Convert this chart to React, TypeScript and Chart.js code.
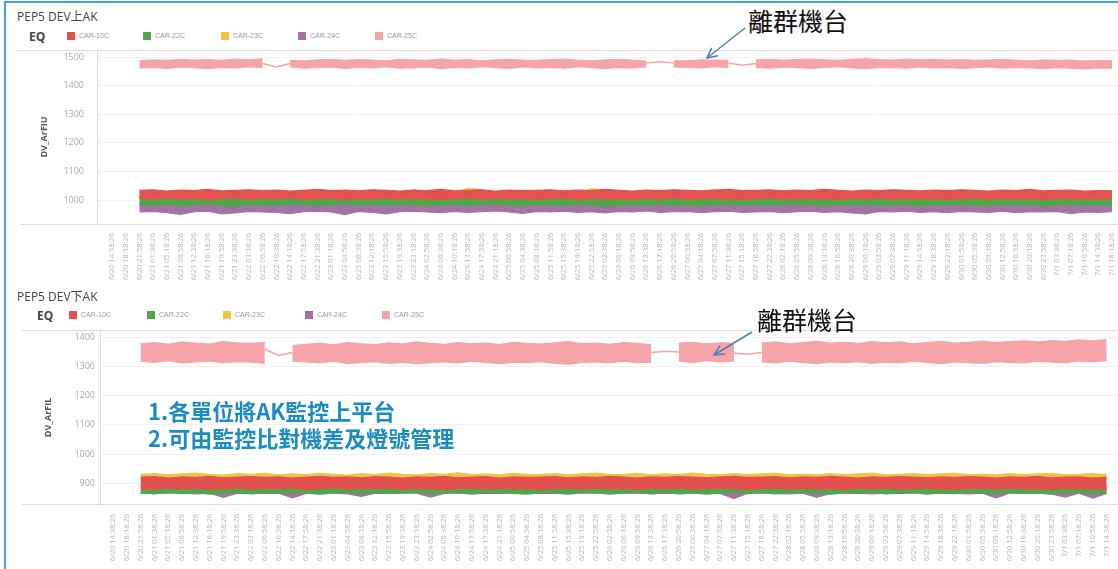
import React, { useEffect, useRef } from "react";
import { Chart, registerables } from "chart.js";

Chart.register(...registerables);

// ---------- category / tick labels ----------
const X_LABELS: string[] = [
  "6/20 14:38:26", "6/20 18:18:26", "6/20 21:58:26",
  "6/21 01:38:26", "6/21 05:18:26", "6/21 08:58:26", "6/21 12:38:26", "6/21 16:18:26", "6/21 19:58:26", "6/21 23:38:26",
  "6/22 03:18:26", "6/22 06:58:26", "6/22 10:38:26", "6/22 14:18:26", "6/22 17:58:26", "6/22 21:38:26",
  "6/23 01:18:26", "6/23 04:58:26", "6/23 08:38:26", "6/23 12:18:26", "6/23 15:58:26", "6/23 19:38:26", "6/23 23:18:26",
  "6/24 02:58:26", "6/24 06:38:26", "6/24 10:18:26", "6/24 13:58:26", "6/24 17:38:26", "6/24 21:18:26",
  "6/25 00:58:26", "6/25 04:38:26", "6/25 08:18:26", "6/25 11:58:26", "6/25 15:38:26", "6/25 19:18:26", "6/25 22:58:26",
  "6/26 02:38:26", "6/26 06:18:26", "6/26 09:58:26", "6/26 13:38:26", "6/26 17:18:26", "6/26 20:58:26",
  "6/27 00:38:26", "6/27 04:18:26", "6/27 07:58:26", "6/27 11:38:26", "6/27 15:18:26", "6/27 18:58:26", "6/27 22:38:26",
  "6/28 02:18:26", "6/28 05:58:26", "6/28 09:38:26", "6/28 13:18:26", "6/28 16:58:26", "6/28 20:38:26",
  "6/29 00:18:26", "6/29 03:58:26", "6/29 07:38:26", "6/29 11:18:26", "6/29 14:58:26", "6/29 18:38:26", "6/29 22:18:26",
  "6/30 01:58:26", "6/30 05:38:26", "6/30 09:18:26", "6/30 12:58:26", "6/30 16:38:26", "6/30 20:18:26", "6/30 23:58:26",
  "7/1 03:38:26", "7/1 07:18:26", "7/1 10:58:26", "7/1 14:38:26", "7/1 18:18:26",
];

const TOP_Y_TICKS = [1000, 1100, 1200, 1300, 1400, 1500];
const BOT_Y_TICKS = [900, 1000, 1100, 1200, 1300, 1400];

const SERIES_NAMES = ["CAR-10C", "CAR-22C", "CAR-23C", "CAR-24C", "CAR-25C"];
const SERIES_COLORS = ["#e3514f", "#4fa64b", "#f2c443", "#a571a7", "#f6a3aa"];

// ---------- upper chart (PEP5 DEV上AK) : band envelopes (high / low) per time tick ----------
const TOP_RED_HI = [null, null,
  1034, 1036, 1031, 1035, 1033, 1037, 1032, 1034, 1036, 1033,
  1035, 1031, 1034, 1037, 1033, 1035, 1032, 1036, 1034, 1031,
  1035, 1033, 1037, 1032, 1034, 1036, 1031, 1035, 1033, 1034,
  1036, 1032, 1035, 1033, 1037, 1034, 1031, 1035, 1033, 1036,
  1034, 1032, 1035, 1037, 1033, 1034, 1036, 1032, 1035, 1033,
  1037, 1034, 1031, 1035, 1033, 1036, 1034, 1032, 1035, 1033,
  1036, 1034, 1031, 1035, 1033, 1037, 1032, 1034, 1035, 1031, 1033, 1032];
const TOP_RED_LO = [null, null,
  1005, 1003, 1007, 1004, 1006, 1002, 1005, 1007, 1003, 1006,
  1004, 1007, 1003, 1005, 1006, 1002, 1005, 1004, 1007, 1003,
  1006, 1004, 1002, 1005, 1007, 1003, 1006, 1004, 1005, 1002,
  1005, 1007, 1003, 1006, 1004, 1005, 1002, 1006, 1004, 1007,
  1003, 1005, 1006, 1004, 1002, 1005, 1007, 1003, 1006, 1004,
  1005, 1002, 1006, 1004, 1007, 1003, 1005, 1006, 1004, 1002,
  1005, 1007, 1003, 1006, 1004, 1005, 1002, 1006, 1004, 1005, 1003, 1006];
const TOP_GREEN_HI = [null, null,
  1012, 1014, 1010, 1013, 1011, 1015, 1012, 1010, 1013, 1014,
  1011, 1013, 1012, 1015, 1010, 1012, 1014, 1011, 1013, 1012,
  1010, 1014, 1012, 1013, 1011, 1015, 1012, 1010, 1013, 1012,
  1014, 1011, 1013, 1012, 1010, 1014, 1012, 1013, 1011, 1012,
  1015, 1012, 1010, 1013, 1014, 1011, 1012, 1013, 1010, 1014,
  1012, 1011, 1013, 1015, 1012, 1010, 1013, 1012, 1014, 1011,
  1013, 1012, 1010, 1014, 1012, 1013, 1011, 1012, 1014, 1010, 1013, 1012];
const TOP_GREEN_LO = [null, null,
  983, 980, 985, 979, 982, 986, 981, 978, 984, 982,
  980, 985, 983, 979, 982, 986, 980, 984, 981, 983,
  985, 979, 982, 984, 980, 983, 986, 981, 979, 984,
  982, 980, 985, 983, 978, 982, 984, 981, 986, 980,
  983, 979, 982, 985, 981, 984, 980, 983, 986, 982,
  979, 983, 981, 985, 980, 982, 984, 979, 983, 981,
  985, 982, 980, 984, 981, 983, 979, 982, 985, 980, 983, 981];
const TOP_YELLOW_HI = [null, null,
  1026, 1028, 1024, 1027, 1025, 1029, 1026, 1024, 1028, 1027,
  1025, 1027, 1026, 1029, 1024, 1026, 1028, 1025, 1027, 1026,
  1036, 1028, 1030, 1027, 1042, 1036, 1026, 1028, 1025, 1027,
  1026, 1029, 1027, 1040, 1034, 1027, 1026, 1028, 1024, 1027,
  1029, 1026, 1038, 1025, 1027, 1028, 1026, 1024, 1027, 1029,
  1026, 1025, 1028, 1027, 1024, 1026, 1029, 1027, 1025, 1028,
  1026, 1027, 1025, 1029, 1026, 1024, 1028, 1026, 1027, 1025, 1028, 1026];
const TOP_YELLOW_LO = [null, null,
  1008, 1010, 1006, 1009, 1007, 1011, 1008, 1006, 1009, 1010,
  1007, 1009, 1008, 1011, 1006, 1008, 1010, 1007, 1009, 1008,
  1006, 1010, 1008, 1009, 1007, 1011, 1008, 1006, 1009, 1008,
  1010, 1007, 1009, 1008, 1006, 1010, 1008, 1009, 1007, 1008,
  1011, 1008, 1006, 1009, 1010, 1007, 1008, 1009, 1006, 1010,
  1008, 1007, 1009, 1011, 1008, 1006, 1009, 1008, 1010, 1007,
  1009, 1008, 1006, 1010, 1008, 1009, 1007, 1008, 1010, 1006, 1009, 1008];
const TOP_PURPLE_HI = [null, null,
  994, 996, 992, 995, 993, 997, 994, 992, 995, 996,
  993, 995, 994, 997, 992, 994, 996, 993, 995, 994,
  992, 996, 994, 995, 993, 997, 994, 992, 995, 994,
  996, 993, 995, 994, 992, 996, 994, 995, 993, 994,
  997, 994, 992, 995, 996, 993, 994, 995, 992, 996,
  994, 993, 995, 997, 994, 992, 995, 994, 996, 993,
  995, 994, 992, 996, 994, 995, 993, 994, 996, 992, 995, 994];
const TOP_PURPLE_LO = [null, null,
  958, 960, 956, 950, 959, 961, 951, 955, 960, 958,
  957, 952, 959, 961, 958, 949, 960, 957, 951, 959,
  961, 958, 956, 960, 957, 959, 962, 958, 953, 960,
  958, 961, 957, 959, 955, 960, 958, 962, 957, 959,
  960, 956, 959, 961, 957, 958, 960, 956, 959, 961,
  957, 959, 955, 951, 960, 958, 961, 957, 959, 956,
  960, 958, 957, 961, 956, 959, 958, 960, 952, 958, 957, 959];
// null = no readings at that tick
const TOP_PINK_HI = [null, null,
  1488, 1491, 1489, 1493, 1490, 1492, 1489, 1494, 1491, 1495,
  null,
  1490, 1487, 1491, 1493, 1489, 1492, 1490, 1488, 1493, 1491,
  1489, 1494, 1490, 1492, 1488, 1491, 1493, 1490, 1489, 1492,
  1494, 1490, 1488, 1491, 1493, 1490, 1486,
  null, 1488,
  1488, 1491, 1489, 1490,
  null,
  1491, 1493, 1490, 1492, 1494, 1491, 1489, 1493, 1495, 1492,
  1490, 1494, 1491, 1493, 1490, 1492, 1489, 1491, 1493, 1490,
  1488, 1491, 1489, 1490, 1487, 1489, 1488];
const TOP_PINK_LO = [null, null,
  1463, 1465, 1461, 1466, 1464, 1460, 1465, 1463, 1467, 1464,
  null,
  1467, 1462, 1464, 1466, 1461, 1465, 1463, 1467, 1462, 1464,
  1466, 1460, 1465, 1463, 1467, 1464, 1461, 1466, 1463, 1465,
  1462, 1467, 1464, 1460, 1465, 1463, 1466,
  null, 1466,
  1465, 1463, 1467, 1464,
  null,
  1465, 1462, 1466, 1464, 1461, 1465, 1467, 1463, 1460, 1465,
  1464, 1462, 1466, 1463, 1465, 1461, 1464, 1466, 1462, 1465,
  1463, 1460, 1464, 1462, 1459, 1463, 1461];
// thin connecting line drawn across the gaps
const TOP_PINK_LINK = [null, null,
  null, null, null, null, null, null, null, null, null, 1478,
  1466,
  1478, null, null, null, null, null, null, null, null, null,
  null, null, null, null, null, null, null, null, null, null,
  null, null, null, null, null, null, 1480,
  1484, 1480,
  null, null, null, 1480,
  1472,
  1478, null, null, null, null, null, null, null, null, null,
  null, null, null, null, null, null, null, null, null, null,
  null, null, null, null, null, null, null];

// ---------- lower chart (PEP5 DEV下AK) ----------
const BOT_RED_HI = [null, null,
  921, 923, 918, 922, 920, 924, 919, 921, 923, 920,
  922, 918, 921, 924, 920, 922, 919, 923, 921, 918,
  922, 920, 924, 919, 921, 923, 918, 922, 920, 921,
  923, 919, 922, 920, 924, 921, 918, 922, 920, 923,
  921, 919, 922, 924, 920, 921, 923, 919, 922, 920,
  924, 921, 918, 922, 920, 923, 921, 919, 922, 920,
  923, 921, 918, 922, 920, 924, 919, 921, 922, 918, 920, null];
const BOT_RED_LO = [null, null,
  882, 879, 884, 880, 883, 878, 882, 885, 879, 883,
  881, 884, 879, 882, 885, 880, 883, 881, 884, 879,
  883, 881, 878, 882, 884, 880, 883, 881, 882, 879,
  882, 884, 880, 883, 881, 882, 878, 883, 881, 884,
  880, 882, 883, 881, 879, 882, 884, 880, 883, 881,
  882, 879, 883, 881, 884, 880, 882, 883, 881, 879,
  882, 884, 880, 883, 881, 882, 879, 883, 881, 882, 880, null];
const BOT_GREEN_HI = [null, null,
  894, 896, 892, 895, 893, 897, 894, 892, 895, 896,
  893, 895, 894, 897, 892, 894, 896, 893, 895, 894,
  892, 896, 894, 895, 893, 897, 894, 892, 895, 894,
  896, 893, 895, 894, 892, 896, 894, 895, 893, 894,
  897, 894, 892, 895, 896, 893, 894, 895, 892, 896,
  894, 893, 895, 897, 894, 892, 895, 894, 896, 893,
  895, 894, 892, 896, 894, 895, 893, 894, 896, 892, 895, null];
const BOT_GREEN_LO = [null, null,
  867, 864, 869, 865, 868, 863, 866, 869, 864, 867,
  865, 868, 866, 863, 867, 869, 864, 868, 865, 867,
  869, 864, 866, 868, 864, 867, 869, 865, 863, 868,
  866, 864, 869, 867, 863, 866, 868, 865, 869, 864,
  867, 863, 866, 869, 865, 868, 864, 867, 869, 866,
  863, 867, 865, 869, 864, 866, 868, 863, 867, 865,
  869, 866, 864, 868, 865, 867, 863, 866, 869, 864, 867, null];
const BOT_YELLOW_HI = [null, null,
  930, 933, 929, 932, 935, 930, 928, 933, 931, 934,
  929, 932, 930, 934, 931, 928, 933, 930, 935, 931,
  929, 933, 931, 936, 930, 932, 929, 934, 931, 930,
  933, 929, 932, 935, 930, 931, 934, 929, 932, 930,
  935, 931, 929, 933, 930, 932, 934, 930, 931, 929,
  933, 930, 932, 935, 929, 931, 933, 930, 932, 934,
  930, 931, 929, 933, 930, 932, 934, 929, 931, 933, 930, null];
const BOT_YELLOW_LO = [null, null,
  905, 907, 903, 906, 904, 908, 905, 903, 906, 907,
  904, 906, 905, 908, 903, 905, 907, 904, 906, 905,
  903, 907, 905, 906, 904, 908, 905, 903, 906, 905,
  907, 904, 906, 905, 903, 907, 905, 906, 904, 905,
  908, 905, 903, 906, 907, 904, 905, 906, 903, 907,
  905, 904, 906, 908, 905, 903, 906, 905, 907, 904,
  906, 905, 903, 907, 905, 906, 904, 905, 907, 903, 906, null];
const BOT_PURPLE_HI = [null, null,
  885, 887, 883, 886, 884, 888, 885, 883, 886, 887,
  884, 886, 885, 888, 883, 885, 887, 884, 886, 885,
  883, 887, 885, 886, 884, 888, 885, 883, 886, 885,
  887, 884, 886, 885, 883, 887, 885, 886, 884, 885,
  888, 885, 883, 886, 887, 884, 885, 886, 883, 887,
  885, 884, 886, 888, 885, 883, 886, 885, 887, 884,
  886, 885, 883, 887, 885, 886, 884, 885, 887, 883, 886, null];
const BOT_PURPLE_LO = [null, null,
  866, 865, 867, 866, 864, 866, 852, 866, 865, 867,
  866, 850, 865, 867, 866, 864, 855, 866, 865, 867,
  866, 853, 865, 867, 864, 866, 865, 867, 866, 865,
  866, 864, 867, 866, 865, 867, 866, 864, 866, 865,
  867, 866, 865, 848, 866, 867, 865, 864, 866, 852,
  865, 867, 866, 864, 866, 865, 867, 866, 865, 866,
  864, 866, 850, 867, 865, 866, 864, 853, 866, 849, 865, null];
const BOT_PINK_HI = [null, null,
  1378, 1382, 1376, 1384, 1380, 1377, 1385, 1381, 1379, 1383,
  null, 1372,
  1376, 1380, 1374, 1382, 1378, 1375, 1381, 1377, 1384, 1379,
  1376, 1382, 1378, 1380, 1375, 1383, 1379, 1377, 1381, 1385,
  1378, 1380, 1376, 1382, 1379, 1374,
  null,
  1380, 1383, 1378, 1381, 1379,
  null,
  1380, 1384, 1378, 1382, 1386, 1380, 1383, 1379, 1385, 1381,
  1384, 1378, 1382, 1386, 1380, 1383, 1387, 1382, 1385, 1388,
  1384, 1389, 1386, 1391, 1388, 1392,
  null];
const BOT_PINK_LO = [null, null,
  1318, 1314, 1320, 1312, 1316, 1319, 1313, 1317, 1315, 1311,
  null, 1318,
  1316, 1312, 1318, 1310, 1314, 1317, 1311, 1315, 1309, 1313,
  1316, 1312, 1318, 1314, 1310, 1315, 1313, 1317, 1311, 1308,
  1314, 1316, 1312, 1318, 1313, 1315,
  null,
  1318, 1314, 1320, 1316, 1319,
  null,
  1316, 1312, 1318, 1314, 1310, 1316, 1313, 1317, 1311, 1315,
  1312, 1318, 1314, 1310, 1316, 1313, 1311, 1317, 1314, 1312,
  1318, 1315, 1313, 1319, 1316, 1320,
  null];
const BOT_PINK_LINK = [null, null,
  null, null, null, null, null, null, null, null, null, 1360,
  1338, 1348,
  null, null, null, null, null, null, null, null, null, null,
  null, null, null, null, null, null, null, null, null, null,
  null, null, null, null, null, 1348,
  1352,
  1350, null, null, null, 1345,
  1342,
  1348, null, null, null, null, null, null, null, null, null,
  null, null, null, null, null, null, null, null, null, null,
  null, null, null, null, null, null,
  null];

type Arr = (number | null)[];

function toPoints(arr: Arr) {
  return arr.map((v, i) => ({ x: i, y: v === undefined ? null : v }));
}

function buildDatasets(bands: [Arr, Arr][], link: Arr) {
  const ds: any[] = [];
  bands.forEach(([hi, lo], k) => {
    const c = SERIES_COLORS[k];
    ds.push({ label: SERIES_NAMES[k], data: toPoints(hi), borderColor: c, backgroundColor: c, borderWidth: 1.2, pointRadius: 0, fill: false, spanGaps: false });
    ds.push({ label: SERIES_NAMES[k] + " low", data: toPoints(lo), borderColor: c, backgroundColor: c, borderWidth: 1.2, pointRadius: 0, fill: "-1", spanGaps: false });
  });
  ds.push({ label: "CAR-25C link", data: toPoints(link), borderColor: SERIES_COLORS[4], borderWidth: 1.5, pointRadius: 0, fill: false, spanGaps: false });
  return ds;
}

interface PanelProps {
  top: number;
  height: number;
  padBottom: number;
  bands: [Arr, Arr][];
  link: Arr;
  yTicks: number[];
  yMin: number;
  yMax: number;
  xMin: number;
  xMax: number;
  yTitle: string;
  padLeft: number;
  yWidth: number;
  tickGap: number;
}

const CANVAS_W = 1160;

function Panel(p: PanelProps) {
  const ref = useRef<HTMLCanvasElement | null>(null);
  useEffect(() => {
    if (!ref.current) return;
    const chart = new Chart(ref.current, {
      type: "line",
      data: { datasets: buildDatasets(p.bands, p.link) },
      options: {
        animation: false,
        responsive: false,
        events: [],
        layout: { padding: { left: p.padLeft, right: 20, top: 6, bottom: p.padBottom } },
        plugins: { legend: { display: false }, tooltip: { enabled: false } },
        elements: { point: { radius: 0 }, line: { tension: 0 } },
        scales: {
          x: {
            type: "linear",
            min: p.xMin,
            max: p.xMax,
            afterBuildTicks: (s: any) => {
              s.ticks = X_LABELS.map((_, i) => ({ value: i }));
            },
            afterFit: (s: any) => {
              s.height = 60;
            },
            ticks: {
              autoSkip: false,
              minRotation: 90,
              maxRotation: 90,
              padding: 1,
              color: "#b8b8b8",
              font: { family: "'Open Sans'", size: 7.5 },
              callback: (v: any) => X_LABELS[v as number] ?? "",
            },
            grid: { display: false },
            border: { display: false },
          },
          y: {
            min: p.yMin,
            max: p.yMax,
            afterBuildTicks: (s: any) => {
              s.ticks = p.yTicks.map((v) => ({ value: v }));
            },
            afterFit: (s: any) => {
              s.width = p.yWidth;
            },
            ticks: {
              padding: 0,
              color: "#aaaaaa",
              font: { family: "'Open Sans'", size: 9 },
              callback: (v: any) => String(v),
            },
            grid: { color: "#f1f1f1", drawTicks: true, tickLength: p.tickGap, tickColor: "rgba(0,0,0,0)" },
            border: { color: "#dddddd" },
            title: {
              display: true,
              text: p.yTitle,
              color: "#555555",
              font: { family: "'Open Sans'", size: 9, weight: "bold" },
              padding: 0,
            },
          },
        },
      } as any,
    });
    return () => chart.destroy();
  }, []);
  return (
    <canvas
      ref={ref}
      width={CANVAS_W}
      height={p.height}
      style={{ position: "absolute", left: 0, top: p.top, width: CANVAS_W, height: p.height }}
    />
  );
}

function Legend({ top, eqLeft, squares }: { top: number; eqLeft: number; squares: number[] }) {
  return (
    <>
      <div style={{ position: "absolute", left: eqLeft, top: top - 4, fontSize: 12, fontWeight: 700, color: "#444", fontFamily: "'Open Sans', sans-serif" }}>EQ</div>
      {SERIES_NAMES.map((n, k) => (
        <React.Fragment key={n}>
          <div style={{ position: "absolute", left: squares[k], top, width: 8, height: 8, background: SERIES_COLORS[k] }} />
          <div style={{ position: "absolute", left: squares[k] + 12, top: top - 1, fontSize: 7, color: "#9a9a9a", fontFamily: "'Liberation Sans', sans-serif", lineHeight: "10px" }}>{n}</div>
        </React.Fragment>
      ))}
    </>
  );
}

function HLine({ left, top }: { left: number; top: number }) {
  return <div style={{ position: "absolute", left, top, width: 1118 - left, height: 1, background: "#dddddd" }} />;
}

export default function App() {
  const topBands: [Arr, Arr][] = [
    [TOP_RED_HI, TOP_RED_LO],
    [TOP_GREEN_HI, TOP_GREEN_LO],
    [TOP_YELLOW_HI, TOP_YELLOW_LO],
    [TOP_PURPLE_HI, TOP_PURPLE_LO],
    [TOP_PINK_HI, TOP_PINK_LO],
  ];
  const botBands: [Arr, Arr][] = [
    [BOT_RED_HI, BOT_RED_LO],
    [BOT_GREEN_HI, BOT_GREEN_LO],
    [BOT_YELLOW_HI, BOT_YELLOW_LO],
    [BOT_PURPLE_HI, BOT_PURPLE_LO],
    [BOT_PINK_HI, BOT_PINK_LO],
  ];
  const arrow = "#4a7ebb";
  return (
    <div style={{ position: "fixed", left: 0, top: 0, width: 1118, height: 569, overflow: "hidden", background: "#fff", fontFamily: "'Open Sans','Noto Sans CJK TC',sans-serif" }}>
      {/* frame */}
      <div style={{ position: "absolute", left: 4, top: 1, width: 1114, height: 568, borderTop: "2px solid #3fa4d6", borderLeft: "2px solid #3fa4d6" }} />

      {/* upper chart */}
      <div style={{ position: "absolute", left: 17, top: 7, fontSize: 12, color: "#444", fontFamily: "'Open Sans','Noto Sans CJK TC',sans-serif" }}>PEP5 DEV上AK</div>
      <Legend top={32} eqLeft={29} squares={[67, 143, 221, 298, 375]} />
      <Panel top={44} height={250} padBottom={10} bands={topBands} link={TOP_PINK_LINK} yTicks={TOP_Y_TICKS} yMin={916} yMax={1525.6} xMin={-1.095} xMax={75.04} yTitle="DV_ArFIU" padLeft={39} yWidth={58} tickGap={13} />
      <HLine left={17} top={50} />
      <HLine left={20} top={224} />

      {/* lower chart */}
      <div style={{ position: "absolute", left: 17, top: 287, fontSize: 12, color: "#444", fontFamily: "'Open Sans','Noto Sans CJK TC',sans-serif" }}>PEP5 DEV下AK</div>
      <Legend top={311} eqLeft={37} squares={[69, 147, 223, 305, 382]} />
      <Panel top={324} height={245} padBottom={4} bands={botBands} link={BOT_PINK_LINK} yTicks={BOT_Y_TICKS} yMin={825.7} yMax={1425} xMin={-0.942} xMax={74.42} yTitle="DV_ArFIL" padLeft={43} yWidth={57} tickGap={5} />
      <HLine left={22} top={330} />
      <HLine left={22} top={504} />

      {/* notes */}
      <div style={{ position: "absolute", left: 148, top: 397, fontSize: 22, lineHeight: "27px", fontWeight: 700, color: "#1b8cc2", fontFamily: "'Noto Sans CJK TC',sans-serif", whiteSpace: "nowrap" }}>
        <div>1.各單位將AK監控上平台</div>
        <div>2.可由監控比對機差及燈號管理</div>
      </div>

      {/* outlier annotations */}
      <div style={{ position: "absolute", left: 748, top: 4, fontSize: 25, lineHeight: "32px", color: "#111", fontFamily: "'Noto Sans CJK TC',sans-serif", whiteSpace: "nowrap" }}>離群機台</div>
      <div style={{ position: "absolute", left: 757, top: 303, fontSize: 25, lineHeight: "32px", color: "#111", fontFamily: "'Noto Sans CJK TC',sans-serif", whiteSpace: "nowrap" }}>離群機台</div>
      <svg width={1118} height={569} style={{ position: "absolute", left: 0, top: 0, pointerEvents: "none" }}>
        <defs>
          <marker id="ah" markerUnits="userSpaceOnUse" markerWidth="14" markerHeight="12" refX="11" refY="6" orient="auto">
            <path d="M1,1 L11,6 L1,11" fill="none" stroke={arrow} strokeWidth="1.5" />
          </marker>
        </defs>
        <line x1={745} y1={28} x2={707} y2={58} stroke={arrow} strokeWidth={1.5} markerEnd="url(#ah)" />
        <line x1={752} y1={332} x2={714} y2={355} stroke={arrow} strokeWidth={1.5} markerEnd="url(#ah)" />
      </svg>
    </div>
  );
}
